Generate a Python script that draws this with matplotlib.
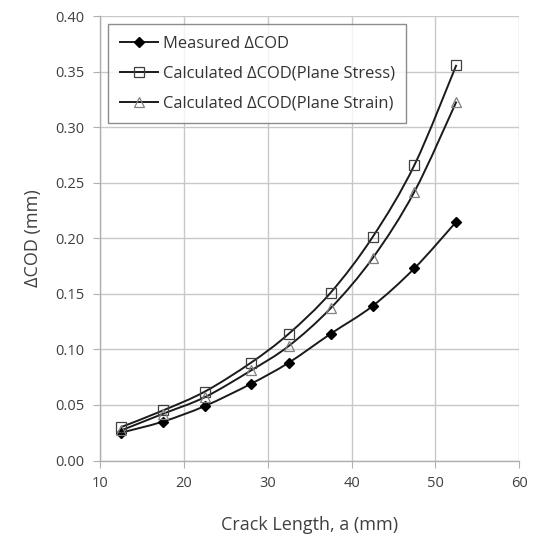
import matplotlib
matplotlib.use("Agg")
import matplotlib.pyplot as plt
from matplotlib.path import Path
from matplotlib.patches import PathPatch
from matplotlib.lines import Line2D
import numpy as np

plt.rcParams['font.family'] = ['Open Sans', 'DejaVu Sans']

crack_length = [12.5, 17.5, 22.5, 28.0, 32.5, 37.5, 42.5, 47.5, 52.5]
measured = [0.025, 0.035, 0.049, 0.069, 0.088, 0.114, 0.139, 0.173, 0.215]
plane_stress = [0.030, 0.045, 0.062, 0.088, 0.114, 0.151, 0.201, 0.266, 0.356]
plane_strain = [0.027, 0.042, 0.057, 0.081, 0.103, 0.137, 0.182, 0.242, 0.323]

labels = ["Measured \u0394COD",
          "Calculated \u0394COD(Plane Stress)",
          "Calculated \u0394COD(Plane Strain)"]

x_ticks = [10, 20, 30, 40, 50, 60]
y_ticks = [0.00, 0.05, 0.10, 0.15, 0.20, 0.25, 0.30, 0.35, 0.40]

fig = plt.figure(figsize=(5.37, 5.36), dpi=100)
ax = fig.add_axes([100/537, 1-460.5/536, 419.3/537, 444.5/536])


def smooth_path(xs, ys):
    pts = np.column_stack([xs, ys])
    n = len(pts)
    verts = [pts[0]]
    codes = [Path.MOVETO]
    for i in range(n - 1):
        p0 = pts[i - 1] if i > 0 else pts[i]
        p1 = pts[i]
        p2 = pts[i + 1]
        p3 = pts[i + 2] if i + 2 < n else pts[i + 1]
        c1 = p1 + (p2 - p0) / 6.0
        c2 = p2 - (p3 - p1) / 6.0
        verts += [c1, c2, p2]
        codes += [Path.CURVE4] * 3
    return Path(verts, codes)


series = [
    (measured, dict(marker='D', markersize=5, markerfacecolor='black',
                    markeredgecolor='black')),
    (plane_stress, dict(marker='s', markersize=7, markerfacecolor='none',
                        markeredgecolor='#404040', markeredgewidth=0.9)),
    (plane_strain, dict(marker='^', markersize=6.5, markerfacecolor='none',
                        markeredgecolor='#808080', markeredgewidth=0.9)),
]

handles = []
for (vals, mk), lab in zip(series, labels):
    patch = PathPatch(smooth_path(crack_length, vals), facecolor='none',
                      edgecolor='#1a1a1a', linewidth=1.4, zorder=3)
    ax.add_patch(patch)
    ax.plot(crack_length, vals, linestyle='none', zorder=4, **mk)
    handles.append(Line2D([], [], color='#1a1a1a', linewidth=1.4, label=lab, **mk))

ax.set_xlim(10, 60)
ax.set_ylim(0, 0.40)
ax.set_xticks(x_ticks)
ax.set_yticks(y_ticks)
ax.set_yticklabels([f"{v:.2f}" for v in y_ticks])
ax.grid(True, color='#c8c8c8', linewidth=1.0)
ax.set_axisbelow(True)
for s in ['top', 'right']:
    ax.spines[s].set_visible(False)
for s in ['left', 'bottom']:
    ax.spines[s].set_color('#b0b0b0')
    ax.spines[s].set_linewidth(1.0)
ax.tick_params(axis='both', direction='out', length=5, color='#b0b0b0',
               labelsize=10.5, labelcolor='#404040', pad=6)
ax.set_xlabel("Crack Length, a (mm)", fontsize=13, color='#404040', labelpad=18)
ax.set_ylabel("\u0394COD (mm)", fontsize=13, color='#404040', labelpad=10)

leg = ax.legend(handles=handles, loc='upper left', bbox_to_anchor=(8/419.3, 1 - 8/444.5),
                borderaxespad=0.0,
                fontsize=11.9, frameon=True, fancybox=False, shadow=False,
                handlelength=2.3, handletextpad=0.3, borderpad=0.7,
                labelspacing=0.85, labelcolor='#333333')
leg.get_frame().set_edgecolor('#707070')
leg.get_frame().set_linewidth(1.0)

fig.savefig("out.png", dpi=100)
